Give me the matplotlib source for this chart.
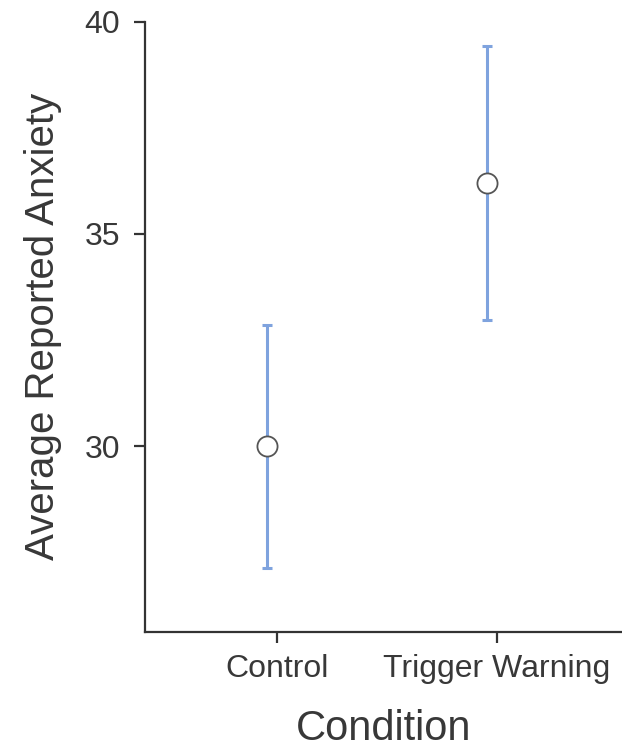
import matplotlib
matplotlib.use("Agg")
import matplotlib.pyplot as plt
import numpy as np

categories = ["Control", "Trigger Warning"]
means = [30.0, 36.19]
ci_low = [27.13, 32.97]
ci_high = [32.85, 39.43]
y_ticks = [30, 35, 40]

plt.rcParams['font.family'] = ['Liberation Sans', 'DejaVu Sans']

fig = plt.figure(figsize=(6.22, 7.49), dpi=100)
ax = fig.add_axes([145/622, 117/749, 1 - 145/622, (632 - 21.7)/749])

x = np.arange(len(categories))
means_a = np.array(means)
yerr = np.vstack([means_a - np.array(ci_low), np.array(ci_high) - means_a])

ax.errorbar(x, means_a, yerr=yerr, fmt='none', ecolor='#7fa3de',
            elinewidth=2.2, capsize=3.5, capthick=2.2, zorder=2)
ax.plot(x, means_a, 'o', markersize=14.5, markerfacecolor='white',
        markeredgecolor='#555555', markeredgewidth=1.3, zorder=3)

ax.set_xlim(-0.5545, 1.614)
ax.set_ylim(25.62, 40)
ax.set_xticks(x + 0.0455)
ax.set_xticklabels(categories)
ax.set_yticks(y_ticks)

text_color = '#383838'
for side in ['top', 'right']:
    ax.spines[side].set_visible(False)
for side in ['left', 'bottom']:
    ax.spines[side].set_color('#333333')
    ax.spines[side].set_linewidth(1.6)

ax.tick_params(axis='both', colors='#333333', width=1.6, length=8,
               labelsize=23, labelcolor=text_color)
ax.tick_params(axis='x', pad=8)
ax.tick_params(axis='y', pad=10)

ax.set_xlabel("Condition", fontsize=30, color=text_color, labelpad=18)
ax.set_ylabel("Average Reported Anxiety", fontsize=29, color=text_color, labelpad=16)

fig.savefig("out.png", dpi=100, facecolor='white')
